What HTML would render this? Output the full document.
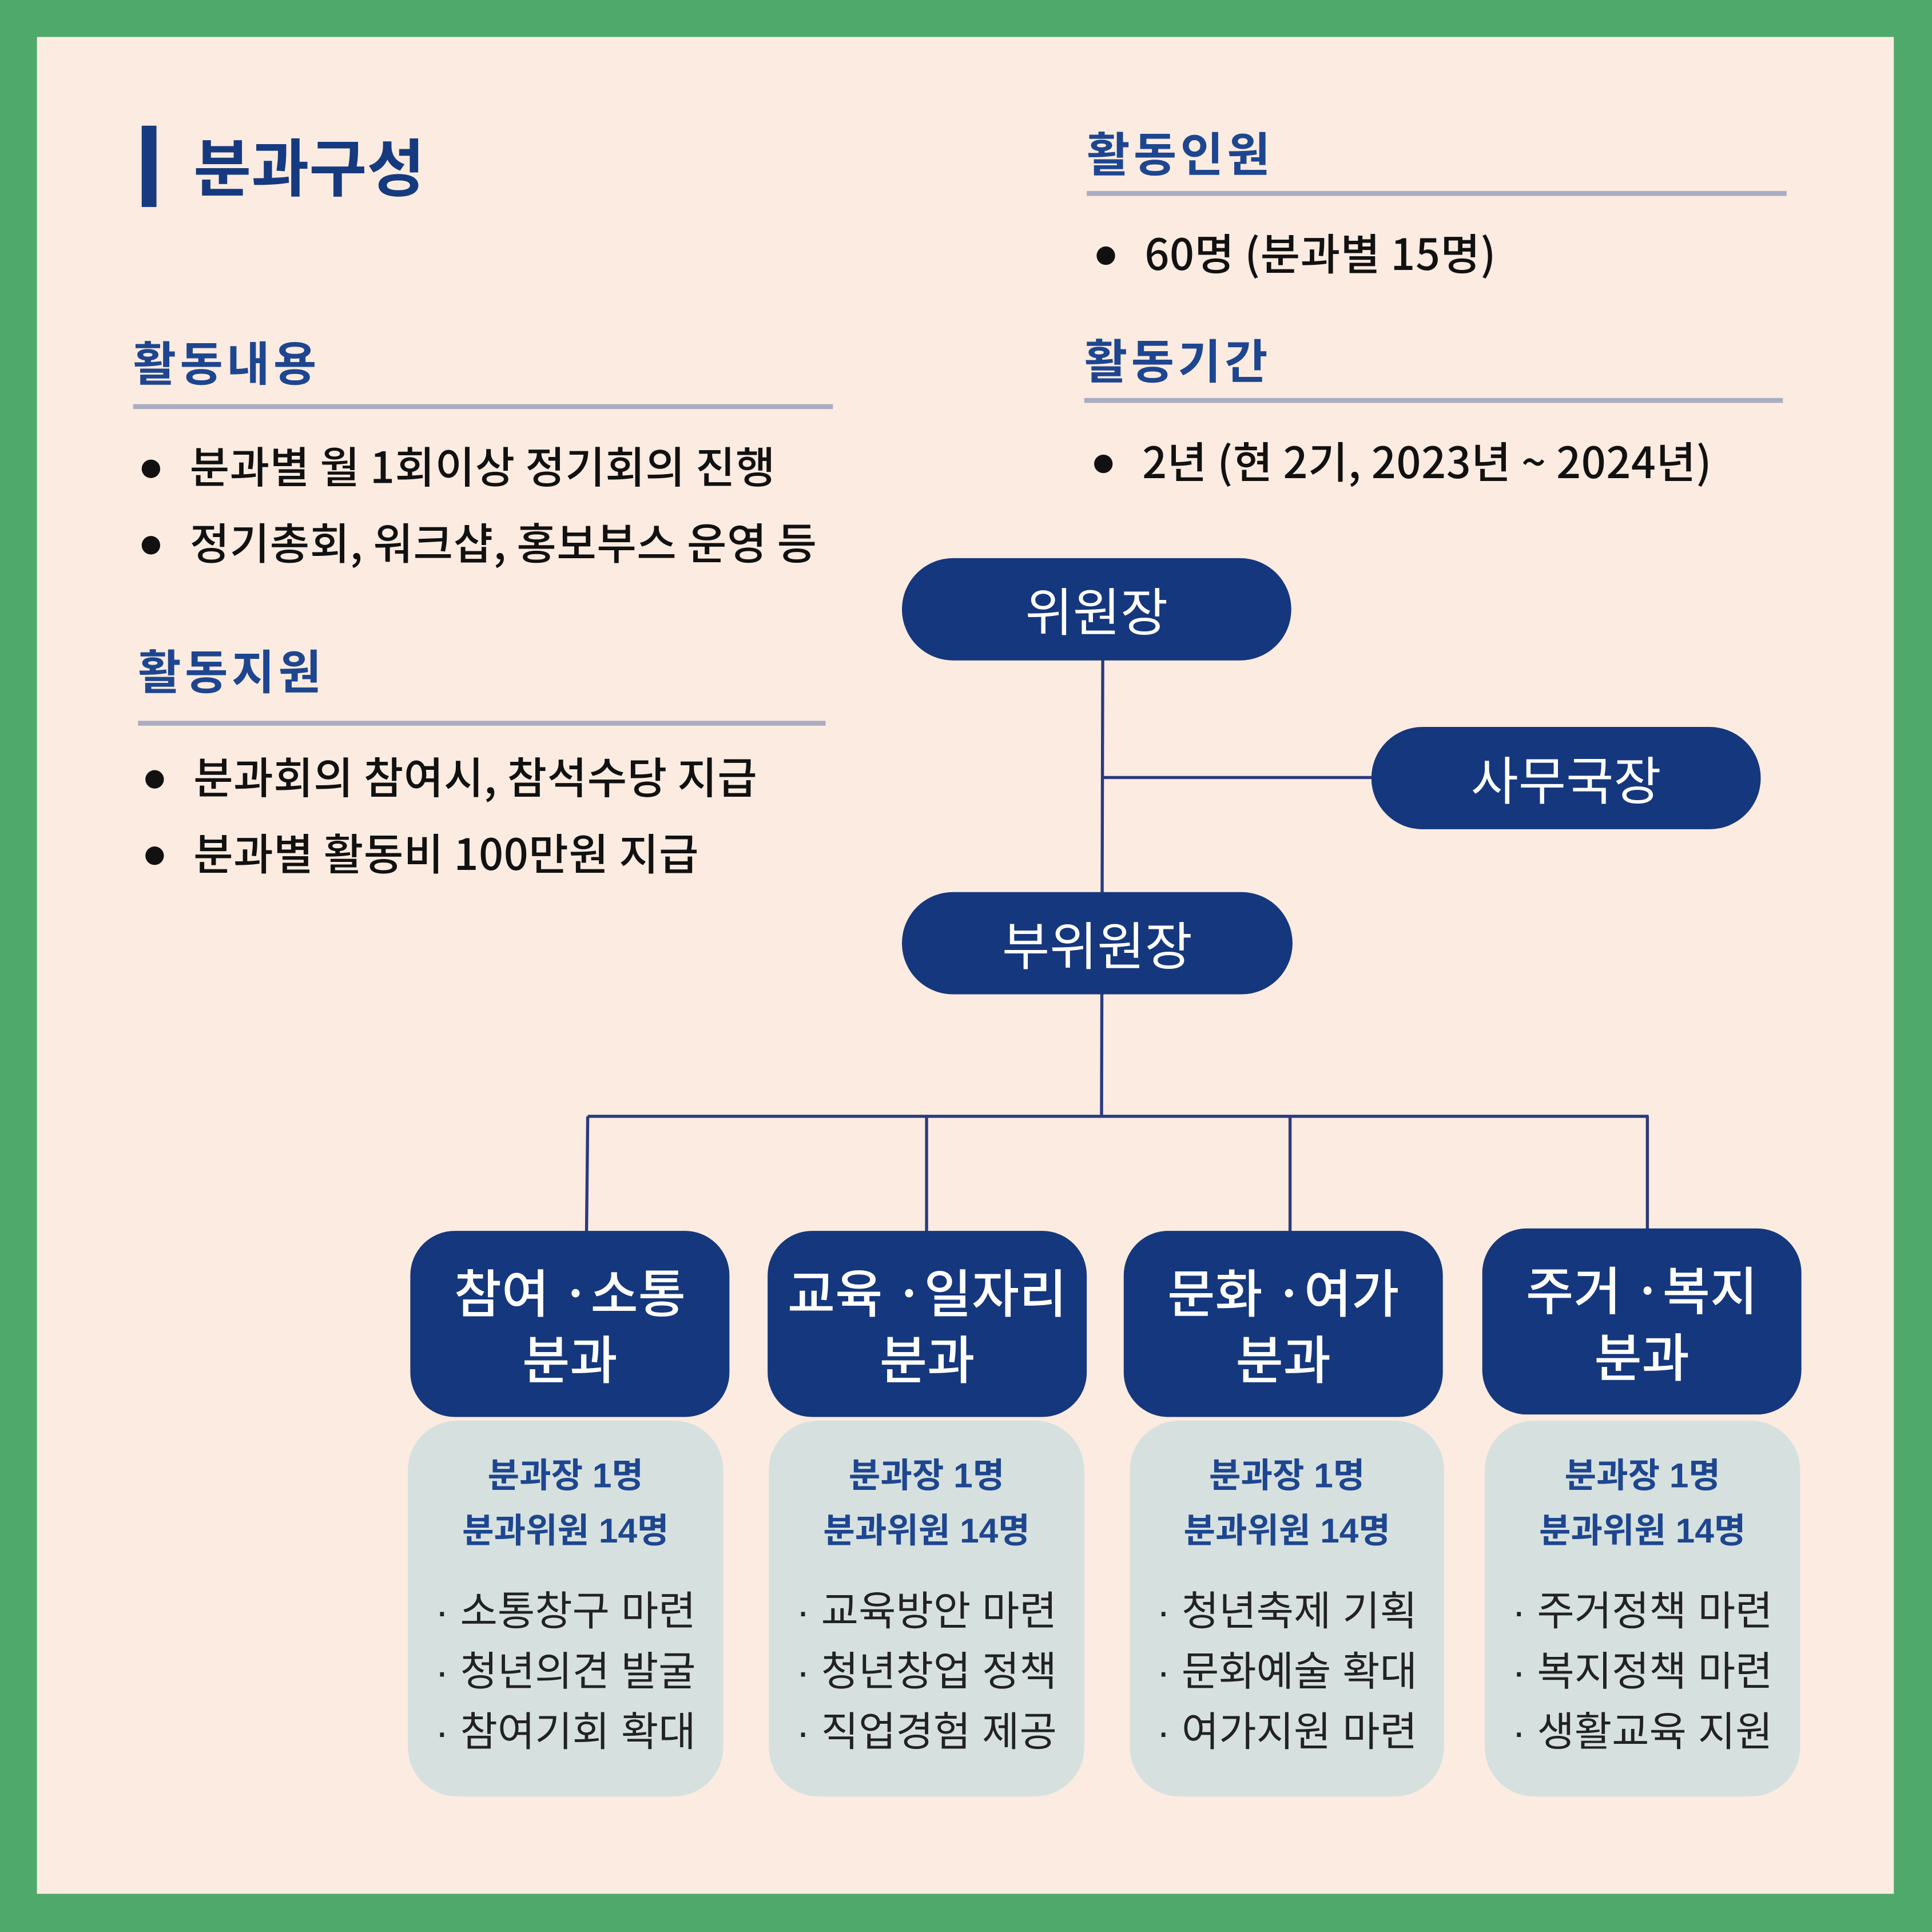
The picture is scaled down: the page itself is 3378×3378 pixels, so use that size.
<!DOCTYPE html>
<html><head><meta charset="utf-8">
<style>
html,body{margin:0;padding:0;width:3378px;height:3378px;overflow:hidden;background:#4fa96b;}
#w{position:absolute;left:0;top:0;width:1568px;height:1568px;transform:scale(2.15434);transform-origin:0 0;font-family:"Liberation Sans","Noto Sans CJK KR",sans-serif;}
.a{position:absolute;white-space:nowrap;}
.h{font-size:38px;font-weight:bold;color:#1e4690;letter-spacing:3px;}
.ln{position:absolute;height:4px;background:#a9adc3;}
.b{font-size:35px;letter-spacing:0.3px;color:#111;font-family:"Noto Sans CJK KR",sans-serif;font-weight:500;line-height:42px;}
.dot{display:inline-block;width:15px;height:15px;border-radius:50%;background:#111;margin-right:24px;vertical-align:middle;position:relative;top:-2px;}
.pill{position:absolute;background:#15377d;color:#fff;border-radius:42px;font-size:42px;display:flex;align-items:center;justify-content:center;}
.dk{position:absolute;background:#15377d;color:#fff;border-radius:36px;font-size:42px;line-height:54px;text-align:center;display:flex;align-items:center;justify-content:center;font-family:"Noto Sans CJK KR",sans-serif;font-weight:500;}
.lt{position:absolute;background:#d6e1df;border-radius:40px;text-align:center;}
.lt .s{font-size:28px;font-weight:bold;color:#1e4690;line-height:45px;}
.lt .i{font-size:33px;color:#222;line-height:49px;margin-top:18px;}
</style></head><body>
<div id="w">
<div style="position:absolute;left:30px;top:30px;width:1507px;height:1507px;background:#fcebe0;"></div>
<div style="position:absolute;left:115px;top:102px;width:12px;height:66px;background:#163a80;"></div>
<div class="a" style="left:157px;top:96px;font-size:51px;font-weight:bold;color:#163a80;">분과구성</div>

<div class="a h" style="left:108px;top:265px;">활동내용</div>
<div class="ln" style="left:108px;top:328px;width:568px;"></div>
<div class="a b" style="left:115px;top:357px;"><span class="dot"></span>분과별 월 1회이상 정기회의 진행</div>
<div class="a b" style="left:115px;top:419px;"><span class="dot"></span>정기총회, 워크샵, 홍보부스 운영 등</div>

<div class="a h" style="left:112px;top:515px;">활동지원</div>
<div class="ln" style="left:112px;top:585px;width:558px;"></div>
<div class="a b" style="left:118px;top:609px;"><span class="dot"></span>분과회의 참여시, 참석수당 지급</div>
<div class="a b" style="left:118px;top:671px;"><span class="dot"></span>분과별 활동비 100만원 지급</div>

<div class="a h" style="left:882px;top:95px;">활동인원</div>
<div class="ln" style="left:882px;top:155px;width:568px;"></div>
<div class="a b" style="left:890px;top:184px;"><span class="dot"></span>60명 (분과별 15명)</div>

<div class="a h" style="left:880px;top:263px;">활동기간</div>
<div class="ln" style="left:880px;top:323px;width:567px;"></div>
<div class="a b" style="left:888px;top:353px;"><span class="dot"></span>2년 (현 2기, 2023년 ~ 2024년)</div>

<svg style="position:absolute;left:0;top:0" width="1568" height="1568">
<g stroke="#2b3a80" stroke-width="2.5" fill="none">
<line x1="895" y1="530" x2="894" y2="907"/>
<line x1="895" y1="631" x2="1115" y2="631"/>
<line x1="477" y1="906" x2="1338" y2="906"/>
<line x1="477" y1="906" x2="476" y2="1002"/>
<line x1="752" y1="906" x2="752" y2="1002"/>
<line x1="1047" y1="906" x2="1047" y2="1002"/>
<line x1="1337" y1="906" x2="1337" y2="1000"/>
</g></svg>

<div class="pill" style="left:732px;top:453px;width:316px;height:83px;">위원장</div>
<div class="pill" style="left:1113px;top:590px;width:316px;height:83px;">사무국장</div>
<div class="pill" style="left:732px;top:724px;width:317px;height:83px;">부위원장</div>

<div class="dk" style="left:333px;top:999px;width:259px;height:151px;">참여 ·소통<br>분과</div>
<div class="dk" style="left:623px;top:999px;width:259px;height:151px;">교육 ·일자리<br>분과</div>
<div class="dk" style="left:912px;top:999px;width:259px;height:151px;">문화 ·여가<br>분과</div>
<div class="dk" style="left:1203px;top:997px;width:259px;height:151px;">주거 ·복지<br>분과</div>

<div class="lt" style="left:331px;top:1153px;width:256px;height:305px;"><div style="height:22px"></div><div class="s">분과장 1명<br>분과위원 14명</div><div class="i">· 소통창구 마련<br>· 청년의견 발굴<br>· 참여기회 확대</div></div>
<div class="lt" style="left:624px;top:1153px;width:256px;height:305px;"><div style="height:22px"></div><div class="s">분과장 1명<br>분과위원 14명</div><div class="i">· 교육방안 마련<br>· 청년창업 정책<br>· 직업경험 제공</div></div>
<div class="lt" style="left:917px;top:1153px;width:255px;height:305px;"><div style="height:22px"></div><div class="s">분과장 1명<br>분과위원 14명</div><div class="i">· 청년축제 기획<br>· 문화예술 확대<br>· 여가지원 마련</div></div>
<div class="lt" style="left:1205px;top:1153px;width:256px;height:305px;"><div style="height:22px"></div><div class="s">분과장 1명<br>분과위원 14명</div><div class="i">· 주거정책 마련<br>· 복지정책 마련<br>· 생활교육 지원</div></div>
</div>
</body></html>
